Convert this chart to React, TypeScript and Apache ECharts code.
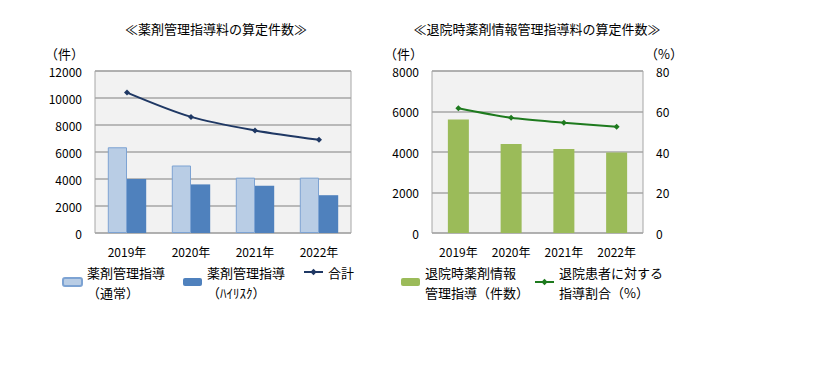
import { useEffect, useRef } from "react";
import * as echarts from "echarts";

const FONT = "'Noto Sans CJK JP', 'Noto Sans', sans-serif";

// Left chart: 薬剤管理指導料の算定件数
const years = ["2019年", "2020年", "2021年", "2022年"];
const normalGuidance = [6350, 5000, 4100, 4100];
const highRiskGuidance = [4000, 3600, 3500, 2800];
const totalGuidance = [10400, 8600, 7600, 6900];
const leftAxisMax = 12000;
const leftAxisStep = 2000;

// Right chart: 退院時薬剤情報管理指導料の算定件数
const dischargeCounts = [5600, 4400, 4150, 3980];
const dischargeRatio = [61.6, 56.9, 54.5, 52.5];
const rightCountMax = 8000;
const rightCountStep = 2000;
const rightRatioMax = 80;
const rightRatioStep = 20;

const seriesNames = [
  "薬剤管理指導\n（通常）",
  "薬剤管理指導\n（ﾊｲﾘｽｸ）",
  "合計",
  "退院時薬剤情報\n管理指導（件数）",
  "退院患者に対する\n指導割合（%）",
];
const titles = ["≪薬剤管理指導料の算定件数≫", "≪退院時薬剤情報管理指導料の算定件数≫"];

export default function App() {
  const ref = useRef<HTMLDivElement>(null);
  useEffect(() => {
    if (!ref.current) return;
    const chart = echarts.init(ref.current, undefined, { renderer: "svg" });
    const axisLabel = {
      fontSize: 12,
      color: "#000",
      fontFamily: FONT,
      formatter: (v: number | string) => String(v),
    };
    const gridBase = {
      show: true,
      backgroundColor: "#f2f2f2",
      borderColor: "#a6a6a6",
      borderWidth: 1,
      top: 71,
      height: 162,
    };
    const splitLine = { show: true, lineStyle: { color: "#a6a6a6", width: 1.5 } };
    const legendBase = {
      top: 252,
      padding: 0,
      itemGap: 0,
      itemWidth: 19,
      itemHeight: 8,
      textStyle: {
        fontSize: 13,
        color: "#000",
        fontFamily: FONT,
        lineHeight: 20,
        padding: [20, 0, 0, 0],
      },
    };
    const textStyle = (t: string) => ({
      text: t,
      fontSize: 13,
      fill: "#000",
      fontFamily: FONT,
    });
    chart.setOption({
      animation: false,
      textStyle: { fontFamily: FONT },
      grid: [
        { ...gridBase, left: 95, width: 256 },
        { ...gridBase, left: 432, width: 211 },
      ],
      xAxis: [0, 1].map((i) => ({
        type: "category",
        gridIndex: i,
        data: years,
        axisLine: { show: false },
        axisTick: { show: false },
        axisLabel: { ...axisLabel, margin: 12 },
      })),
      yAxis: [
        {
          type: "value",
          gridIndex: 0,
          min: 0,
          max: leftAxisMax,
          interval: leftAxisStep,
          axisLabel: { ...axisLabel, margin: 13 },
          splitLine,
        },
        {
          type: "value",
          gridIndex: 1,
          min: 0,
          max: rightCountMax,
          interval: rightCountStep,
          axisLabel: { ...axisLabel, margin: 13 },
          splitLine,
        },
        {
          type: "value",
          gridIndex: 1,
          position: "right",
          min: 0,
          max: rightRatioMax,
          interval: rightRatioStep,
          axisLine: { show: false },
          axisTick: { show: false },
          axisLabel: { ...axisLabel, margin: 13 },
          splitLine: { show: false },
        },
      ],
      legend: [
        { ...legendBase, left: 62, data: [seriesNames[0]] },
        { ...legendBase, left: 183, data: [seriesNames[1]] },
        { ...legendBase, left: 303, data: [seriesNames[2]] },
        { ...legendBase, left: 401, data: [seriesNames[3]] },
        { ...legendBase, left: 534, data: [seriesNames[4]] },
      ],
      series: [
        {
          name: seriesNames[0],
          type: "bar",
          xAxisIndex: 0,
          yAxisIndex: 0,
          data: normalGuidance,
          barGap: "0%",
          barCategoryGap: "40%",
          itemStyle: { color: "#b9cde5", borderColor: "#7da3d3", borderWidth: 1 },
        },
        {
          name: seriesNames[1],
          type: "bar",
          xAxisIndex: 0,
          yAxisIndex: 0,
          data: highRiskGuidance,
          barGap: "0%",
          barCategoryGap: "40%",
          itemStyle: { color: "#4f81bd" },
        },
        {
          name: seriesNames[2],
          type: "line",
          xAxisIndex: 0,
          yAxisIndex: 0,
          data: totalGuidance,
          smooth: 0.3,
          symbol: "diamond",
          symbolSize: 6,
          z: 5,
          lineStyle: { color: "#1f3864", width: 2 },
          itemStyle: { color: "#1f3864" },
        },
        {
          name: seriesNames[3],
          type: "bar",
          xAxisIndex: 1,
          yAxisIndex: 1,
          data: dischargeCounts,
          barWidth: 21,
          itemStyle: { color: "#9bbb59" },
        },
        {
          name: seriesNames[4],
          type: "line",
          xAxisIndex: 1,
          yAxisIndex: 2,
          data: dischargeRatio,
          smooth: 0.3,
          symbol: "diamond",
          symbolSize: 6,
          z: 5,
          lineStyle: { color: "#1e7a1e", width: 2 },
          itemStyle: { color: "#1e7a1e" },
        },
      ],
      graphic: [
        { type: "text", x: 216, y: 28, style: { ...textStyle(titles[0]), textAlign: "center", textVerticalAlign: "middle" } },
        { type: "text", x: 537, y: 28, style: { ...textStyle(titles[1]), textAlign: "center", textVerticalAlign: "middle" } },
        { type: "text", x: 84, y: 53, style: { ...textStyle("（件）"), textAlign: "right", textVerticalAlign: "middle" } },
        { type: "text", x: 423, y: 53, style: { ...textStyle("（件）"), textAlign: "right", textVerticalAlign: "middle" } },
        { type: "text", x: 645, y: 53, style: { ...textStyle("（%）"), textAlign: "left", textVerticalAlign: "middle" } },
      ],
    });
    return () => chart.dispose();
  }, []);
  return (
    <div
      ref={ref}
      style={{ position: "absolute", left: 0, top: 0, width: 825, height: 375, background: "#fff" }}
    />
  );
}
